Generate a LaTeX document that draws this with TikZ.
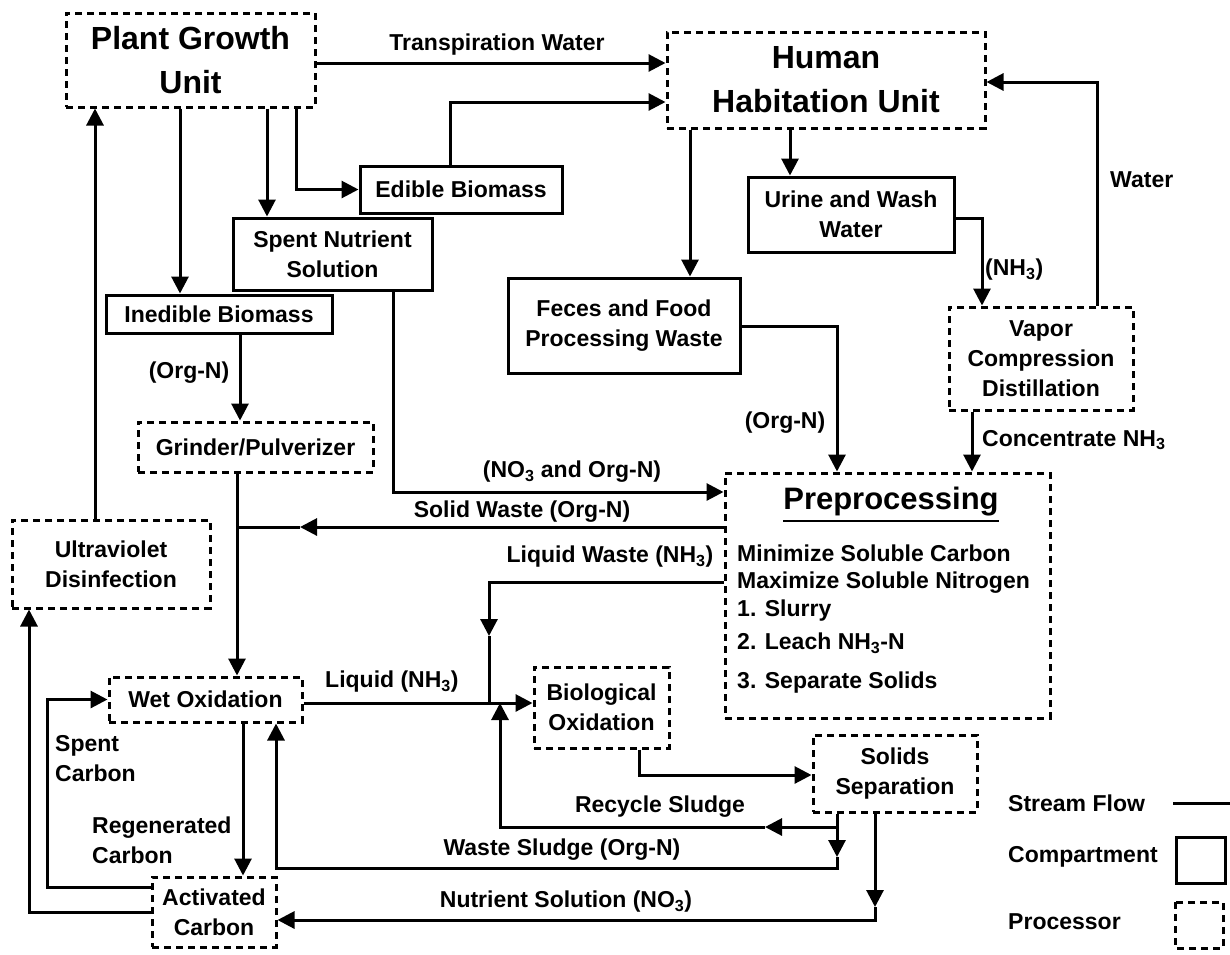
\documentclass[tikz,border=0pt]{standalone}
\usepackage{fontspec}
\setmainfont{Liberation Sans}
\usetikzlibrary{arrows.meta}
\begin{document}
\begin{tikzpicture}[x=1pt,y=-1pt,
  every node/.style={font=\bfseries\fontsize{23}{30}\selectfont, inner sep=0pt, align=center},
  comp/.style 2 args={draw, line width=3pt, minimum width=#1, minimum height=#2},
  proc/.style 2 args={draw, line width=3pt, dash pattern=on 7pt off 5pt, minimum width=#1, minimum height=#2},
  ln/.style={line width=3pt},
  arr/.style={line width=3pt, -{Triangle[length=17pt,width=17pt]}},
  big/.style={font=\bfseries\fontsize{32}{44}\selectfont}]
\fill[white] (0,0) rectangle (1230,954);
\useasboundingbox (0,0) rectangle (1230,954);

% boxes
\node[proc={249pt}{94pt}, big] (pgu) at (190.5,60) {Plant Growth\\Unit};
\node[proc={318pt}{96pt}, big] (hhu) at (826,80) {Human\\Habitation Unit};
\node[comp={202pt}{47pt}] (edb) at (461,189.5) {Edible Biomass};
\node[comp={199pt}{72pt}] (sns) at (332.5,254) {Spent Nutrient\\Solution};
\node[comp={226pt}{38pt}] (inb) at (219,314) {Inedible Biomass};
\node[proc={235pt}{50pt}] (grp) at (255.5,447) {Grinder/Pulverizer};
\node[proc={198pt}{88pt}] (uvd) at (111,564) {Ultraviolet\\Disinfection};
\node[proc={193pt}{45pt}] (wox) at (205.5,699.5) {Wet Oxidation};
\node[proc={124pt}{70pt}] (acc) at (214,912) {Activated\\Carbon};
\node[proc={135pt}{81pt}] (bio) at (601.5,707.5) {Biological\\Oxidation};
\node[proc={164pt}{77pt}] (sol) at (895,773.5) {Solids\\Separation};
\node[proc={325pt}{245pt}] (pre) at (887.5,595.5) {};
\node[comp={232pt}{95pt}] (fec) at (624,325.5) {Feces and Food\\Processing Waste};
\node[comp={206pt}{75pt}] (uww) at (851,214.5) {Urine and Wash\\Water};
\node[proc={184pt}{103pt}] (vcd) at (1041,358.5) {Vapor\\Compression\\Distillation};

% preprocessing text
\node[font=\bfseries\fontsize{31}{36}\selectfont] (pret) at (891,502) {Preprocessing};
\draw[line width=2pt] ([yshift=-4pt]pret.south west) -- ([yshift=-4pt]pret.south east);
\node[anchor=west] (pr1) at (737,553) {Minimize Soluble Carbon};
\node[anchor=west] (pr2) at (737,583) {Maximize Soluble Nitrogen};
\node[anchor=west] (pr3) at (737,611) {1. Slurry};
\node[anchor=west] (pr4) at (737,643) {2. Leach NH\textsubscript{3}-N};
\node[anchor=west] (pr5) at (737,683) {3. Separate Solids};

% labels
\node (l1) at (497,45) {Transpiration Water};
\node (l2) at (189,373) {(Org-N)};
\node (l3) at (572,472) {(NO\textsubscript{3} and Org-N)};
\node (l4) at (785,423) {(Org-N)};
\node[anchor=west] (l5) at (982,440) {Concentrate NH\textsubscript{3}};
\node[anchor=west] (l6) at (985,270) {(NH\textsubscript{3})};
\node[anchor=west] (l7) at (1110,180) {Water};
\node (l8) at (522,512) {Solid Waste (Org-N)};
\node (l9) at (610,557) {Liquid Waste (NH\textsubscript{3})};
\node[anchor=west] (l10) at (325,682) {Liquid (NH\textsubscript{3})};
\node[anchor=west, align=left] (l11) at (55,759) {Spent\\Carbon};
\node[anchor=west, align=left] (l12) at (92,840) {Regenerated\\Carbon};
\node (l13) at (660,807) {Recycle Sludge};
\node (l14) at (562,850) {Waste Sludge (Org-N)};
\node (l15) at (566,902) {Nutrient Solution (NO\textsubscript{3})};

% legend
\node[anchor=west] (lg1) at (1008,803) {Stream Flow};
\node[anchor=west] (lg2) at (1008,857) {Compartment};
\node[anchor=west] (lg3) at (1008,922) {Processor};
\draw[ln] (1173,803) -- (1230,803);
\draw[line width=3pt] (1176,837) rectangle (1225,883);
\draw[line width=3pt, dash pattern=on 7pt off 5pt] (1175,902) rectangle (1223,948);

% junction coordinates
\coordinate (swa) at (300,527);
\coordinate (swj) at (237,527);
\coordinate (lwa) at (489,636);
\coordinate (lwj) at (489,703);
\coordinate (rj) at (837,827);
\coordinate (ra) at (765,827);
\coordinate (rc) at (500,827);
\coordinate (wa) at (837,857);
\coordinate (wb) at (837,868);
\coordinate (na) at (875,907);

% connectors
\draw[arr] (pgu.east |- 0,63) -- (hhu.west |- 0,63);
\draw[arr] (pgu.south -| 180,0) -- (inb.north -| 180,0);
\draw[arr] (pgu.south -| 267,0) -- (sns.north -| 267,0);
\draw[arr] (pgu.south -| 296,0) |- (edb.west);
\draw[arr] (edb.north -| 450,0) |- (hhu.west |- 0,102);
\draw[arr] (hhu.south -| 690,0) -- (fec.north -| 690,0);
\draw[arr] (hhu.south -| 790,0) -- (uww.north -| 790,0);
\draw[arr] (uww.east |- 0,218) -| (vcd.north -| 982,0);
\draw[arr] (vcd.north -| 1097,0) |- (hhu.east |- 0,82);
\draw[arr] (vcd.south -| 972,0) -- (pre.north -| 972,0);
\draw[arr] (fec.east |- 0,326) -| (pre.north -| 837,0);
\draw[arr] (sns.south -| 393,0) |- (pre.west |- 0,492);
\draw[arr] (inb.south -| 240,0) -- (grp.north -| 240,0);
\draw[arr] (grp.south -| 237,0) -- (wox.north -| 237,0);
\draw[arr] (pre.west |- swa) -- (swa);
\draw[ln] (swa) -- (swj);
\draw[arr] (uvd.north -| 95,0) -- (pgu.south -| 95,0);
\draw[arr] (acc.west |- 0,912) -- (29,912) -- (uvd.south -| 29,0);
\draw[arr] (acc.west |- 0,887) -- (47,887) |- (wox.west);
\draw[arr] (wox.south -| 243,0) -- (acc.north -| 243,0);
\draw[arr] (wox.east |- 0,703) -- (bio.west |- 0,703);
\draw[arr] (pre.west |- 0,582) -| (lwa);
\draw[ln] (lwa) -- (lwj);
\draw[arr] (bio.south -| 639,0) |- (sol.west |- 0,775);
\draw[arr] (rj) -- (ra);
\draw[arr] (ra) -- (rc) -- (rc |- lwj);
\draw[arr] (sol.south -| rj) -- (wa);
\draw[arr] (wa) -- (wb) -| (wox.south -| 276,0);
\draw[arr] (sol.south -| na) -- (na);
\draw[arr] (na) |- (acc.east |- 0,920);
\end{tikzpicture}
\end{document}
